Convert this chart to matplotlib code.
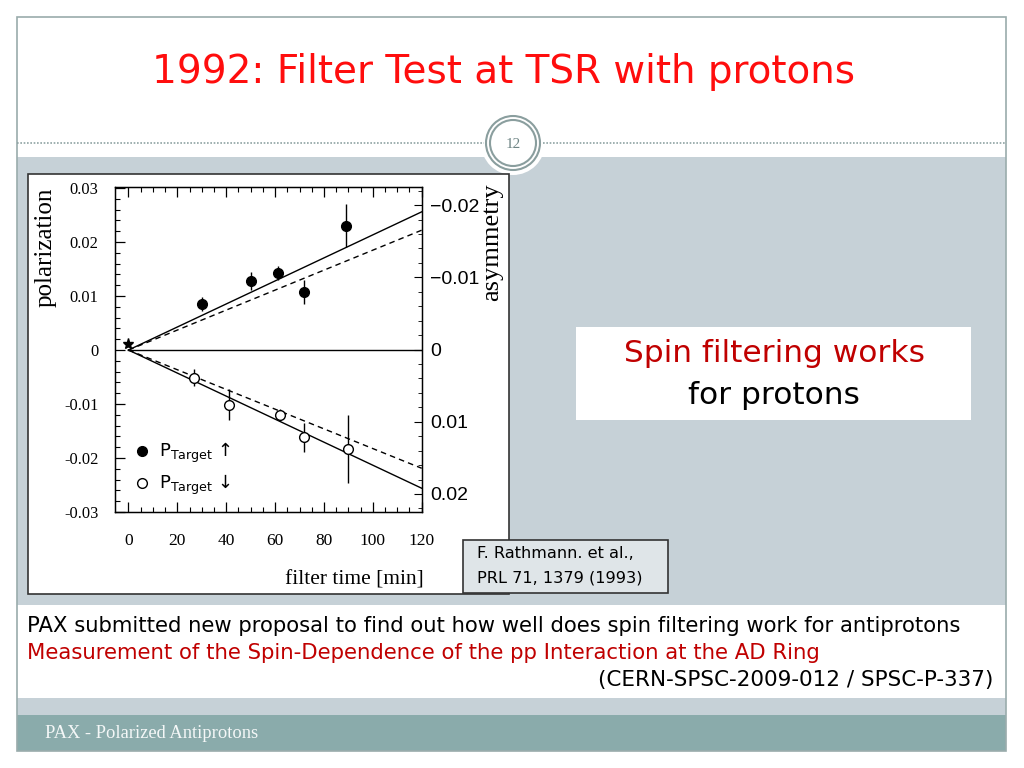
import matplotlib
matplotlib.use('Agg')
import matplotlib.pyplot as plt
from matplotlib.patches import Rectangle, Circle
from matplotlib.lines import Line2D
import numpy as np

# data
t_up = [30, 50, 61, 72, 89]
p_up = [0.0085, 0.0128, 0.0142, 0.0108, 0.0230]
e_up = [0.0013, 0.0017, 0.0013, 0.0022, 0.0040]
t_dn = [27, 41, 62, 72, 90]
p_dn = [-0.0051, -0.0101, -0.0120, -0.0162, -0.0183]
e_dn = [0.0015, 0.0029, 0.0011, 0.0026, 0.0063]
t_star = [0]
p_star = [0.0012]
e_star = [0.0006]
fit_t = [0, 120]
solid_up = [0, 0.0256]
dash_up = [0, 0.0222]
solid_dn = [0, -0.0256]
dash_dn = [0, -0.0219]
zero_line = [0, 0]

xticks = [0, 20, 40, 60, 80, 100, 120]
pticks = [0.03, 0.02, 0.01, 0, -0.01, -0.02, -0.03]
plabels = ['0.03', '0.02', '0.01', '0', '-0.01', '-0.02', '-0.03']
aticks = [-0.02, -0.01, 0, 0.01, 0.02]
alabels = ['\u22120.02', '\u22120.01', '0', '0.01', '0.02']

fig = plt.figure(figsize=(10.24, 7.68), dpi=100)
fig.patch.set_facecolor('white')

# slide background drawn in pixel coords
bg = fig.add_axes([0, 0, 1, 1])
bg.set_xlim(0, 1024)
bg.set_ylim(768, 0)
bg.axis('off')
bg.set_zorder(0)

gray = '#c6d1d7'
teal = '#8aabab'
edge = '#9aacac'
bg.add_patch(Rectangle((17, 157), 989, 558, fc=gray, ec='none'))
bg.add_patch(Rectangle((17, 605), 989, 93, fc='white', ec='none'))
bg.add_patch(Rectangle((17, 715), 989, 36, fc=teal, ec='none'))
bg.add_patch(Rectangle((17, 17), 989, 734, fc='none', ec=edge, lw=1.2))
bg.plot([17, 484], [143, 143], ls=(0, (1, 1)), color='#8fa3a3', lw=1.2)
bg.plot([543, 1006], [143, 143], ls=(0, (1, 1)), color='#8fa3a3', lw=1.2)
bg.add_patch(Circle((513, 143), 32, fc='white', ec='none'))
bg.add_patch(Circle((513, 143), 27, fc='white', ec='#8a9e9e', lw=1.5))
bg.add_patch(Circle((513, 143), 23, fc='white', ec='#8a9e9e', lw=1.5))
bg.text(513, 144, '12', ha='center', va='center', fontsize=11,
        family='Liberation Serif', color='#6f8585')

bg.text(503, 72, '1992: Filter Test at TSR with protons', ha='center', va='center',
        fontsize=28, color='#ff0d0d', family='DejaVu Sans')

# chart image box and boxes on the slide
bg.add_patch(Rectangle((28, 174), 481, 420, fc='white', ec='#333333', lw=1.2))
bg.add_patch(Rectangle((576, 327), 395, 93, fc='white', ec='none'))
bg.text(774, 353, 'Spin filtering works', ha='center', va='center', fontsize=22.5,
        color='#c00000', family='DejaVu Sans')
bg.text(774, 396, 'for protons', ha='center', va='center', fontsize=22.5,
        color='black', family='DejaVu Sans')
bg.add_patch(Rectangle((463, 540), 205, 53, fc='#dfe5e8', ec='#333333', lw=1.2))
bg.text(477, 554, 'F. Rathmann. et al.,', ha='left', va='center', fontsize=11.6,
        family='DejaVu Sans')
bg.text(477, 578, 'PRL 71, 1379 (1993)', ha='left', va='center', fontsize=11.6,
        family='DejaVu Sans')

bg.text(27, 626, 'PAX submitted new proposal to find out how well does spin filtering work for antiprotons',
        ha='left', va='center', fontsize=15.2, family='DejaVu Sans')
bg.text(27, 653, 'Measurement of the Spin-Dependence of the pp Interaction at the AD Ring',
        ha='left', va='center', fontsize=15.3, color='#c00000', family='DejaVu Sans')
bg.text(993, 680, '(CERN-SPSC-2009-012 / SPSC-P-337)', ha='right', va='center',
        fontsize=15.5, family='DejaVu Sans')
bg.text(45, 734, 'PAX - Polarized Antiprotons', ha='left', va='center', fontsize=13.3,
        family='Liberation Serif', color='#f4f7f7')

# the physics plot
ax = fig.add_axes([115 / 1024, 1 - 512 / 768, 306.7 / 1024, 325 / 768])
ax.set_zorder(2)
ax.patch.set_alpha(0)
ax.plot(fit_t, solid_up, color='black', lw=1)
ax.plot(fit_t, dash_up, color='black', lw=1, ls=(0, (4, 3)))
ax.plot(fit_t, solid_dn, color='black', lw=1)
ax.plot(fit_t, dash_dn, color='black', lw=1, ls=(0, (4, 3)))
ax.plot(fit_t, zero_line, color='black', lw=1)
ax.errorbar(t_up, p_up, yerr=e_up, fmt='o', color='black', ms=7, elinewidth=1, capsize=0)
ax.errorbar(t_dn, p_dn, yerr=e_dn, fmt='o', color='black', mfc='white', ms=7,
            elinewidth=1, capsize=0)
ax.errorbar(t_star, p_star, yerr=e_star, fmt='*', color='black', ms=8, elinewidth=1, capsize=0)

ax.set_xlim(-5.5, 120)
ax.set_ylim(-0.030, 0.0302)
ax.set_xticks(xticks)
ax.set_xticklabels([str(v) for v in xticks], family='Liberation Serif', fontsize=12.5)
ax.set_xticks(np.arange(0, 121, 5), minor=True)
ax.set_yticks(pticks)
ax.set_yticklabels(plabels, family='Liberation Serif', fontsize=11.8)
ax.set_yticks(np.arange(-0.03, 0.0301, 0.002), minor=True)
ax.tick_params(which='both', direction='in', top=True, right=False)
ax.tick_params(which='major', length=7, width=0.9)
ax.tick_params(which='minor', length=3.5, width=0.8)
ax.tick_params(axis='x', pad=15)
ax.tick_params(axis='y', pad=12)
for s in ax.spines.values():
    s.set_linewidth(1)
ax.set_ylabel('polarization', family='Liberation Serif', fontsize=18)
ax.yaxis.set_label_coords(-0.19, 0.815)
ax.set_xlabel('filter time [min]', family='Liberation Serif', fontsize=15.5)
ax.xaxis.set_label_coords(0.78, -0.18)

ax2 = ax.twinx()
ax2.set_ylim(0.0225, -0.0225)
ax2.set_yticks(aticks)
ax2.set_yticklabels(alabels, family='Liberation Sans', fontsize=14)
ax2.set_yticks(np.arange(-0.022, 0.0221, 0.002), minor=True)
ax2.tick_params(which='both', direction='in')
ax2.tick_params(which='major', length=6, pad=6)
ax2.tick_params(which='minor', length=3)
ax2.set_ylabel('asymmetry', family='Liberation Serif', fontsize=19)
ax2.yaxis.set_label_coords(1.195, 0.83)

h_up = Line2D([], [], marker='o', ls='none', color='black', ms=7)
h_dn = Line2D([], [], marker='o', ls='none', color='black', mfc='white', ms=7)
ax.legend([h_up, h_dn], ['P$_{\\mathrm{Target}}$ \u2191', 'P$_{\\mathrm{Target}}$ \u2193'],
          loc='lower left', bbox_to_anchor=(0.005, -0.005), frameon=False,
          prop={'family': 'DejaVu Sans', 'size': 13}, handletextpad=0.45,
          labelspacing=0.45, handlelength=1.0)

fig.savefig('out.png', dpi=100, facecolor='white')
